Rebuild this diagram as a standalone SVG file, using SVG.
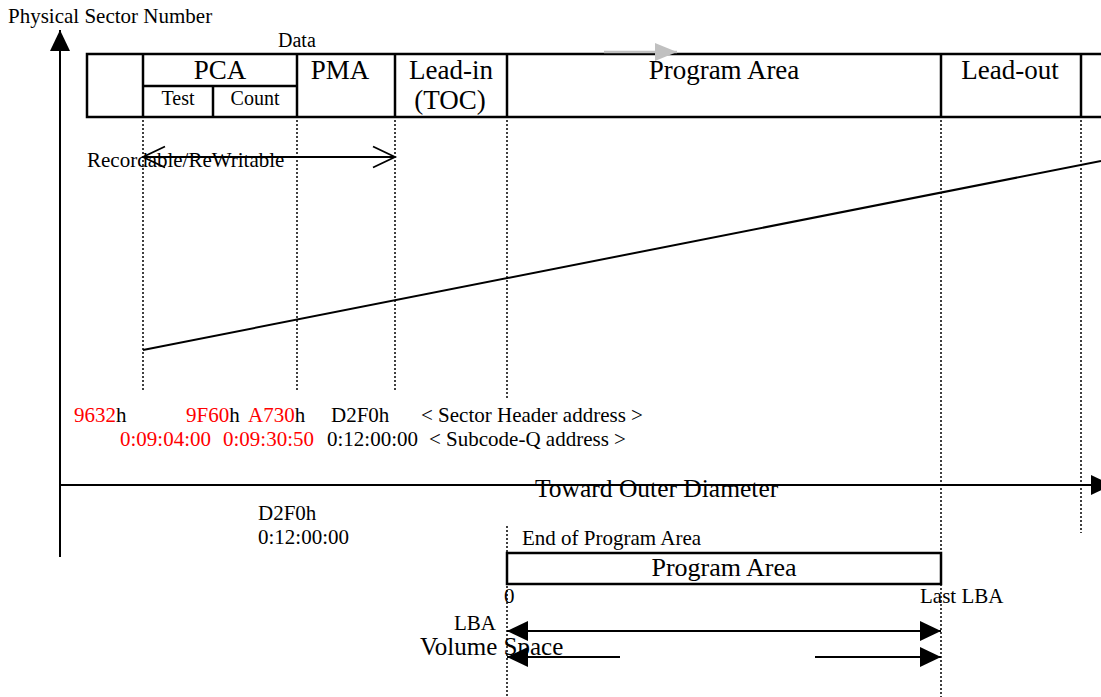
<svg xmlns="http://www.w3.org/2000/svg" width="1101" height="697" viewBox="0 0 1101 697">
<style>
text{font-family:"Liberation Serif","Times New Roman",serif;fill:#000}
.t21{font-size:21px}
.t20{font-size:20px}
.big{font-size:27px}
.red{fill:#ff0000}
.frame{fill:none;stroke:#000;stroke-width:2.5}
.cell{stroke:#000;stroke-width:2.5}
.dot{stroke:#000;stroke-width:1.5;stroke-dasharray:2 2;fill:none}
.axis{stroke:#000;stroke-width:2;fill:none}
.thin{stroke:#000;stroke-width:1.8;fill:none}
</style>
<defs>
<marker id="fill" markerUnits="userSpaceOnUse" markerWidth="22" markerHeight="22" refX="21" refY="10" orient="auto-start-reverse" overflow="visible">
<path d="M0,0 L21,10 L0,20 z" fill="#000"/>
</marker>
<marker id="open" markerUnits="userSpaceOnUse" markerWidth="24" markerHeight="24" refX="22" refY="10.5" orient="auto-start-reverse" overflow="visible">
<path d="M0,0 L22,10.5 L0,21" fill="none" stroke="#000" stroke-width="1.8"/>
</marker>
<marker id="gray" markerUnits="userSpaceOnUse" markerWidth="24" markerHeight="20" refX="22" refY="9" orient="auto" overflow="visible">
<path d="M0,0 L22,9 L0,18 z" fill="#c0c0c0"/>
</marker>
</defs>

<g id="axis-label">
<text class="t21" x="8" y="23">Physical Sector Number</text>
</g>

<g id="track-table">
<text class="t20" x="278" y="47">Data</text>
<rect class="frame" x="87" y="54" width="1030" height="63"/>
<line class="cell" x1="143" y1="54" x2="143" y2="117"/>
<line class="cell" x1="297" y1="54" x2="297" y2="117"/>
<line class="cell" x1="395" y1="54" x2="395" y2="117"/>
<line class="cell" x1="507" y1="54" x2="507" y2="117"/>
<line class="cell" x1="941" y1="54" x2="941" y2="117"/>
<line class="cell" x1="1081" y1="54" x2="1081" y2="117"/>
<line class="cell" x1="143" y1="86" x2="297" y2="86"/>
<line class="cell" x1="213" y1="86" x2="213" y2="117"/>
</g>
<g id="pca"><text class="big" x="220" y="79" text-anchor="middle">PCA</text>
<text class="t20" x="178" y="105" text-anchor="middle">Test</text>
<text class="t20" x="255" y="105" text-anchor="middle">Count</text></g>
<g id="pma"><text class="big" x="340" y="79" text-anchor="middle">PMA</text></g>
<g id="lead-in"><text class="big" x="451" y="79" text-anchor="middle">Lead-in</text>
<text class="big" x="450" y="109" text-anchor="middle">(TOC)</text></g>
<g id="program-area"><text class="big" x="724" y="79" text-anchor="middle">Program Area</text></g>
<g id="lead-out"><text class="big" x="1010" y="79" text-anchor="middle">Lead-out</text></g>

<g id="connectors">
<line x1="604" y1="52" x2="677" y2="52" stroke="#c0c0c0" stroke-width="2.5" marker-end="url(#gray)"/>
<line class="axis" x1="60" y1="557" x2="60" y2="30" marker-end="url(#fill)"/>
<line class="axis" x1="60" y1="485" x2="1112" y2="485" marker-end="url(#fill)"/>
<line class="dot" x1="143" y1="120" x2="143" y2="390"/>
<line class="dot" x1="297" y1="120" x2="297" y2="390"/>
<line class="dot" x1="395" y1="120" x2="395" y2="390"/>
<line class="dot" x1="507" y1="120" x2="507" y2="400"/>
<line class="dot" x1="507" y1="526" x2="507" y2="697"/>
<line class="dot" x1="941" y1="120" x2="941" y2="697"/>
<line class="dot" x1="1081" y1="120" x2="1081" y2="533"/>
<line class="axis" x1="143" y1="350" x2="1101" y2="161"/>
<line class="thin" x1="143" y1="157" x2="395" y2="157" marker-start="url(#open)" marker-end="url(#open)"/>
<line class="axis" x1="507" y1="631" x2="941" y2="631" marker-start="url(#fill)" marker-end="url(#fill)"/>
<line class="axis" x1="620" y1="657" x2="507" y2="657" marker-end="url(#fill)"/>
<line class="axis" x1="815" y1="657" x2="941" y2="657" marker-end="url(#fill)"/>
</g>

<g id="recordable-label">
<text class="t21" x="87" y="167">Recordable/ReWritable</text>
</g>

<g id="addresses">
<text class="t21" y="422"><tspan x="74" class="red">9632</tspan><tspan>h</tspan><tspan x="186" class="red">9F60</tspan><tspan>h</tspan><tspan x="248" class="red">A730</tspan><tspan>h</tspan><tspan x="331">D2F0h</tspan><tspan x="421">&lt; Sector Header address &gt;</tspan></text>
<text class="t21" y="446"><tspan x="120" class="red">0:09:04:00</tspan><tspan x="223" class="red">0:09:30:50</tspan><tspan x="327">0:12:00:00</tspan><tspan x="429">&lt; Subcode-Q address &gt;</tspan></text>
</g>

<g id="outer-label">
<text x="535" y="497" style="font-size:25.5px">Toward Outer Diameter</text>
</g>

<g id="end-address">
<text class="t21" x="258" y="520">D2F0h</text>
<text class="t21" x="258" y="544">0:12:00:00</text>
</g>

<g id="lba-box">
<text class="t21" x="522" y="545">End of Program Area</text>
<rect class="frame" x="507" y="553" width="434" height="31"/>
<text x="724" y="576" text-anchor="middle" style="font-size:26px">Program Area</text>
<text class="t21" x="504" y="603">0</text>
<text class="t21" x="920" y="603">Last LBA</text>
</g>

<g id="lba-labels">
<text class="t21" x="454" y="630">LBA</text>
<text x="420" y="655" style="font-size:25px">Volume Space</text>
</g>
</svg>
